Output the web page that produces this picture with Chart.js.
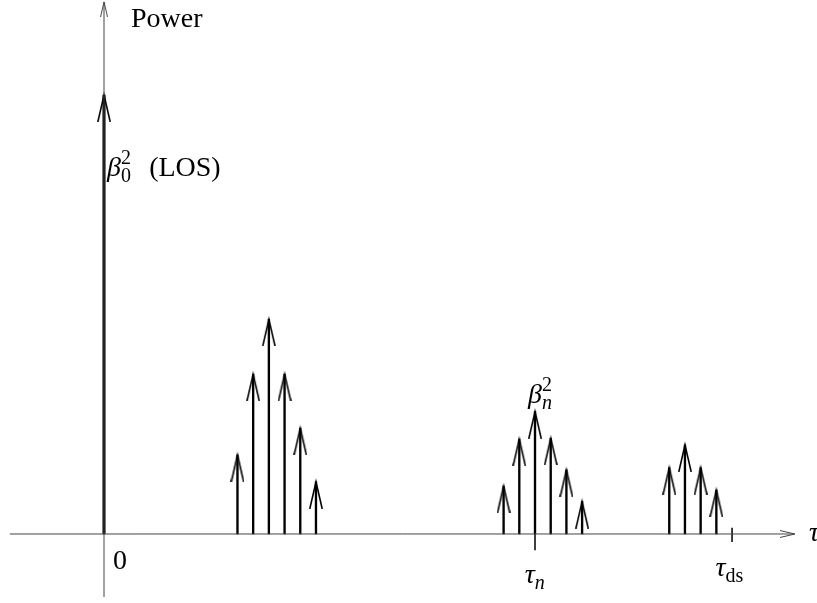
<!DOCTYPE html>
<html>
<head>
  <title>Power delay profile</title>
  <script src="https://cdn.jsdelivr.net/npm/chart.js"></script>
  <style>
    body { margin: 0; background: #fff; }
    #wrap { width: 817px; height: 603px; }
  </style>
</head>
<body>
  <div id="wrap"><canvas id="chart"></canvas></div>
  <script>
    // delays (arbitrary units) and powers
    const losDelay = [0];
    const losPower = [10];
    const cluster1Delay = [8.5, 9.5, 10.5, 11.5, 12.5, 13.5];
    const cluster1Power = [1.8, 3.64, 4.89, 3.64, 2.41, 1.19];
    const cluster2Delay = [25.45, 26.45, 27.45, 28.45, 29.45, 30.45];
    const cluster2Power = [1.09, 2.16, 2.79, 2.18, 1.46, 0.74];
    const cluster3Delay = [36, 37, 38, 39];
    const cluster3Power = [1.51, 2.03, 1.51, 1.0];
    const tauN = 27.45;
    const tauDs = 40;
    const xAxisRange = [-6, 44];
    const yAxisRange = [-1.435, 12.12];

    function arrowHead(w, h, color, lw) {
      // open arrowhead, tip at canvas centre
      const c = document.createElement('canvas');
      c.width = w; c.height = h * 2;
      const g = c.getContext('2d');
      g.strokeStyle = color; g.lineWidth = lw;
      g.beginPath();
      g.moveTo(lw / 2, h * 2); g.lineTo(w / 2, h); g.lineTo(w - lw / 2, h * 2);
      g.stroke();
      return c;
    }
    function arrowRight(w, h, color, lw) {
      const c = document.createElement('canvas');
      c.width = w * 2; c.height = h;
      const g = c.getContext('2d');
      g.strokeStyle = color; g.lineWidth = lw;
      g.beginPath();
      g.moveTo(0, lw / 2); g.lineTo(w, h / 2); g.lineTo(0, h - lw / 2);
      g.stroke();
      return c;
    }

    const stemHead = arrowHead(14, 27, '#000', 1.6);
    const axisHeadUp = arrowHead(8, 15, '#444', 1);
    const axisHeadRight = arrowRight(15, 8, '#444', 1);

    const pts = (xs, ys) => xs.map((x, i) => ({ x: x, y: ys[i] }));

    function stems(xs, ys, thick) {
      return { type: 'bar', data: pts(xs, ys), backgroundColor: '#000', barThickness: thick, grouped: false };
    }
    function heads(xs, ys) {
      return { type: 'scatter', data: pts(xs, ys), pointStyle: stemHead, pointRadius: 7 };
    }
    function seg(data, color, w) {
      return { type: 'scatter', data: data, showLine: true, borderColor: color, borderWidth: w, pointRadius: 0 };
    }

    const labels = [
      { x: 1.72, y: 11.55, parts: [['Power', 'up']] },
      { x: 0.19, y: 8.155, parts: [['β', 'it'], ['2', 'sup'], ['0', 'sub'], [' \u2009\u2009(LOS)', 'up']] },
      { x: 0.57, y: -0.8, parts: [['0', 'up']] },
      { x: 27.0, y: 2.98, parts: [['β', 'it'], ['2', 'sup'], ['n', 'subit']] },
      { x: 26.8, y: -1.12, parts: [['τ', 'it'], ['n', 'subit']] },
      { x: 38.95, y: -0.96, parts: [['τ', 'it'], ['ds', 'sub']] },
      { x: 44.9, y: -0.16, parts: [['τ', 'it']] }
    ];

    const textPlugin = {
      id: 'mathText',
      afterDatasetsDraw(chart) {
        const ctx = chart.ctx;
        const sx = chart.scales.x, sy = chart.scales.y;
        const size = 28, small = 20;
        ctx.save();
        ctx.fillStyle = '#000';
        ctx.textBaseline = 'alphabetic';
        ctx.textAlign = 'left';
        labels.forEach(l => {
          let px = sx.getPixelForValue(l.x);
          const py = sy.getPixelForValue(l.y);
          let scriptX = null, scriptW = 0;
          l.parts.forEach(([t, kind]) => {
            let font, dy = 0, isScript = false;
            if (kind === 'up') font = size + 'px "Liberation Serif"';
            else if (kind === 'it') font = 'italic ' + size + 'px "Liberation Serif"';
            else if (kind === 'sup') { font = small + 'px "Liberation Serif"'; dy = -12; isScript = true; }
            else if (kind === 'sub') { font = small + 'px "Liberation Serif"'; dy = 6; isScript = true; }
            else { font = 'italic ' + small + 'px "Liberation Serif"'; dy = 6; isScript = true; }
            ctx.font = font;
            const w = ctx.measureText(t).width;
            if (isScript) {
              if (scriptX === null) scriptX = px;
              ctx.fillText(t, scriptX, py + dy);
              scriptW = Math.max(scriptW, w);
              px = scriptX + scriptW;
            } else {
              scriptX = null; scriptW = 0;
              ctx.fillText(t, px, py + dy);
              px += w;
            }
          });
        });
        ctx.restore();
      }
    };

    new Chart(document.getElementById('chart'), {
      type: 'scatter',
      data: {
        datasets: [
          seg([{ x: xAxisRange[0], y: 0 }, { x: xAxisRange[1], y: 0 }], '#444', 1),
          seg([{ x: 0, y: yAxisRange[0] }, { x: 0, y: yAxisRange[1] }], '#444', 1),
          { type: 'scatter', data: [{ x: 0, y: yAxisRange[1] }], pointStyle: axisHeadUp, pointRadius: 4 },
          { type: 'scatter', data: [{ x: xAxisRange[1], y: 0 }], pointStyle: axisHeadRight, pointRadius: 4 },
          seg([{ x: tauN, y: 0 }, { x: tauN, y: -0.37 }], '#000', 1.5),
          seg([{ x: tauDs, y: 0.14 }, { x: tauDs, y: -0.18 }], '#000', 1.5),
          stems(losDelay, losPower, 2.4),
          heads(losDelay, losPower),
          stems(cluster1Delay, cluster1Power, 1.7),
          heads(cluster1Delay, cluster1Power),
          stems(cluster2Delay, cluster2Power, 1.7),
          heads(cluster2Delay, cluster2Power),
          stems(cluster3Delay, cluster3Power, 1.7),
          heads(cluster3Delay, cluster3Power)
        ]
      },
      options: {
        responsive: true,
        maintainAspectRatio: false,
        animation: false,
        events: [],
        layout: { padding: 0, autoPadding: false },
        plugins: { legend: { display: false }, tooltip: { enabled: false } },
        scales: {
          x: { type: 'linear', min: -6.624, max: 45.41, offset: false, display: false },
          y: { type: 'linear', min: -1.572, max: 12.164, display: false }
        }
      },
      plugins: [textPlugin]
    });
  </script>
</body>
</html>
